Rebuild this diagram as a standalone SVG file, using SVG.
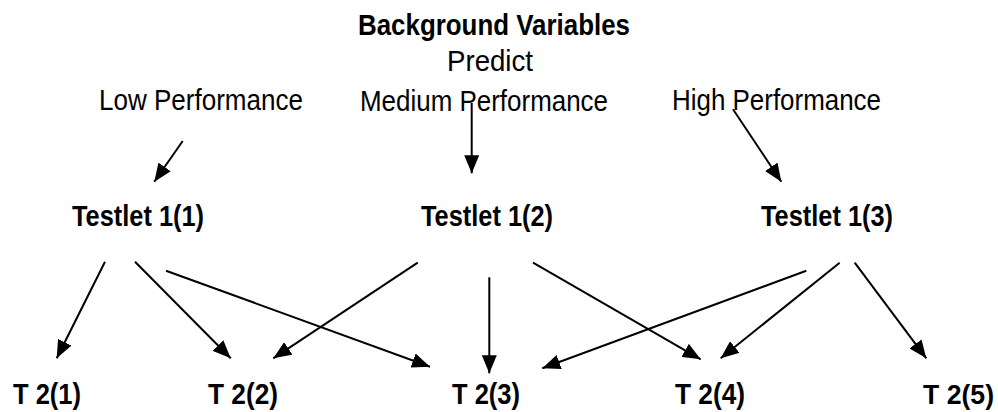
<svg xmlns="http://www.w3.org/2000/svg" width="998" height="412" viewBox="0 0 998 412">
<defs>
<style>
text{font-family:"Liberation Sans",Arial,sans-serif;font-size:29px;fill:#000}
.b{font-weight:bold}
.c line{stroke:#000;stroke-width:2;marker-end:url(#ah)}
</style>
<marker id="ah" markerUnits="userSpaceOnUse" markerWidth="18" markerHeight="15" refX="18" refY="7.5" orient="auto">
<path d="M0,0 L18,7.5 L0,15 Z" fill="#000"/>
</marker>
</defs>
<rect width="998" height="412" fill="#fff"/>
<g id="title"><text class="b" x="358" y="35" textLength="272" lengthAdjust="spacingAndGlyphs">Background Variables</text></g>
<g id="predict"><text x="447" y="71" textLength="86" lengthAdjust="spacingAndGlyphs">Predict</text></g>
<g id="low"><text x="99" y="110" textLength="204" lengthAdjust="spacingAndGlyphs">Low Performance</text></g>
<g id="medium"><text x="360" y="111" textLength="248" lengthAdjust="spacingAndGlyphs">Medium Performance</text></g>
<g id="high"><text x="672" y="110" textLength="209" lengthAdjust="spacingAndGlyphs">High Performance</text></g>
<g id="t11"><text class="b" x="72" y="226" textLength="132" lengthAdjust="spacingAndGlyphs">Testlet 1(1)</text></g>
<g id="t12"><text class="b" x="421" y="226" textLength="132" lengthAdjust="spacingAndGlyphs">Testlet 1(2)</text></g>
<g id="t13"><text class="b" x="761" y="226" textLength="132" lengthAdjust="spacingAndGlyphs">Testlet 1(3)</text></g>
<g id="t21"><text class="b" x="13" y="404" textLength="68" lengthAdjust="spacingAndGlyphs">T 2(1)</text></g>
<g id="t22"><text class="b" x="208" y="404" textLength="70" lengthAdjust="spacingAndGlyphs">T 2(2)</text></g>
<g id="t23"><text class="b" x="452" y="404" textLength="68" lengthAdjust="spacingAndGlyphs">T 2(3)</text></g>
<g id="t24"><text class="b" x="675" y="404" textLength="70" lengthAdjust="spacingAndGlyphs">T 2(4)</text></g>
<g id="t25"><text class="b" x="923" y="404" style="font-size:28px" textLength="71" lengthAdjust="spacingAndGlyphs">T 2(5)</text></g>
<g id="connectors" class="c">
<line x1="182.7" y1="141" x2="154.3" y2="181.7"/>
<line x1="471.7" y1="103" x2="471.7" y2="173.3"/>
<line x1="733" y1="109.3" x2="781.3" y2="181.7"/>
<line x1="105" y1="261.7" x2="56.7" y2="358.3"/>
<line x1="135" y1="261.7" x2="230.7" y2="358.3"/>
<line x1="166" y1="270.7" x2="430" y2="366.7"/>
<line x1="417.7" y1="262.7" x2="273.3" y2="358.3"/>
<line x1="489.3" y1="277.3" x2="489.3" y2="373.3"/>
<line x1="533" y1="262.7" x2="700.7" y2="359.3"/>
<line x1="806.3" y1="270.7" x2="542.3" y2="368.3"/>
<line x1="839.7" y1="262.7" x2="720.7" y2="358.3"/>
<line x1="854.7" y1="262.7" x2="926.3" y2="358.3"/>
</g>
</svg>
